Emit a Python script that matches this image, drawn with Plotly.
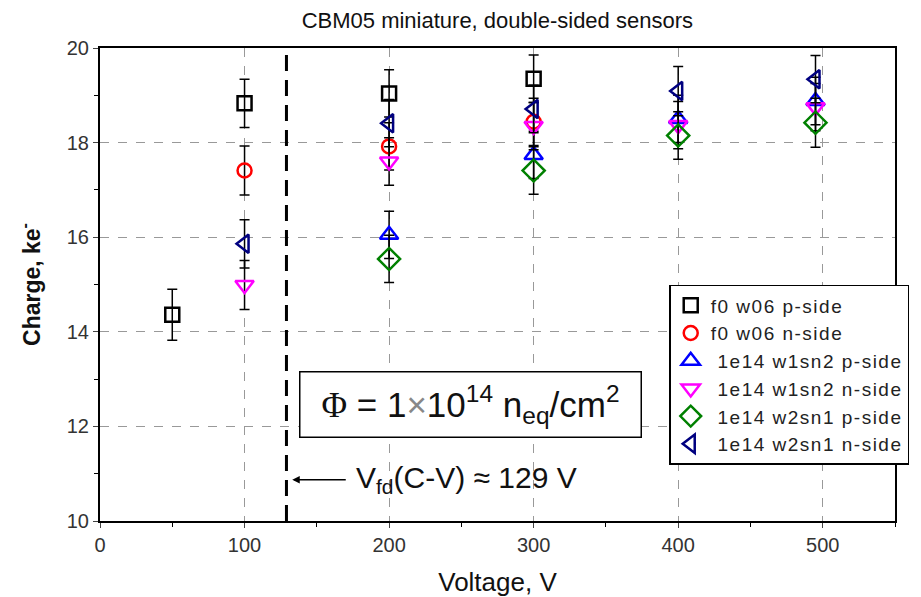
import plotly.graph_objects as go

# Charge collected vs. bias voltage for CBM05 miniature double-sided sensors
series_names = [
    "f0 w06 p-side",
    "f0 w06 n-side",
    " 1e14 w1sn2 p-side",
    " 1e14 w1sn2 n-side",
    " 1e14 w2sn1 p-side",
    " 1e14 w2sn1 n-side",
]

f0_p_volt = [50, 100, 200, 300]
f0_p_charge = [14.36, 18.83, 19.04, 19.35]
f0_p_err = [0.54, 0.51, 0.50, 0.50]

f0_n_volt = [100, 200, 300]
f0_n_charge = [17.41, 17.92, 18.44]
f0_n_err = [0.52, 0.50, 0.50]

w1_p_volt = [200, 300, 400, 495]
w1_p_charge = [16.05, 17.74, 18.50, 18.88]
w1_p_err = [0.50, 0.50, 0.50, 0.50]

w1_n_volt = [100, 200, 300, 400, 495]
w1_n_charge = [14.99, 17.60, 18.35, 18.37, 18.75]
w1_n_err = [0.52, 0.50, 0.50, 0.50, 0.50]

w2_p_volt = [200, 300, 400, 495]
w2_p_charge = [15.54, 17.41, 18.15, 18.42]
w2_p_err = [0.50, 0.50, 0.50, 0.52]

w2_n_volt = [100, 200, 300, 400, 495]
w2_n_charge = [15.86, 18.41, 18.71, 19.09, 19.34]
w2_n_err = [0.51, 0.50, 0.50, 0.52, 0.50]

v_full_depletion = 129

x_ticks = [0, 100, 200, 300, 400, 500]
y_ticks = [10, 12, 14, 16, 18, 20]

volts = [f0_p_volt, f0_n_volt, w1_p_volt, w1_n_volt, w2_p_volt, w2_n_volt]
charges = [f0_p_charge, f0_n_charge, w1_p_charge, w1_n_charge, w2_p_charge, w2_n_charge]
errors = [f0_p_err, f0_n_err, w1_p_err, w1_n_err, w2_p_err, w2_n_err]
symbols = ["square-open", "circle-open", "triangle-up-open",
           "triangle-down-open", "diamond-open", "triangle-left-open"]
colors = ["#000000", "#ff0000", "#0000ff", "#ff00ff", "#008000", "#000080"]
sizes = [14, 14, 16, 16, 17, 16]

FONT = "Liberation Sans, Arial, sans-serif"

fig = go.Figure()

for name, xv, yv, ev, sym, col, sz in zip(series_names, volts, charges, errors,
                                          symbols, colors, sizes):
    fig.add_trace(go.Scatter(
        x=xv, y=yv, mode="markers",
        name=f"<span style='letter-spacing:1.5px'>{name}</span>",
        marker=dict(symbol=sym, size=sz, color=col, line=dict(width=2.5, color=col)),
        error_y=dict(type="data", array=ev, visible=True, color="#000000",
                     thickness=1.5, width=5),
    ))

# full depletion voltage marker
fig.add_shape(type="line", xref="x", yref="paper",
              x0=v_full_depletion, x1=v_full_depletion, y0=0, y1=1,
              line=dict(color="black", width=3, dash="16px,9px"))

fig.add_annotation(x=133, y=10.87, xref="x", yref="y", ax=55, ay=0,
                   text="", showarrow=True, arrowhead=2, arrowsize=1,
                   arrowwidth=1.5, arrowcolor="black")
fig.add_annotation(x=176, y=10.87, xref="x", yref="y", xanchor="left",
                   text="V<sub>fd</sub>(C-V) ≈ 129 V", showarrow=False,
                   font=dict(family=FONT, size=30, color="#111"))

fig.add_annotation(x=256, y=12.46, xref="x", yref="y",
                   text="<span style='font-family:Liberation Serif,Times New Roman,serif'>Φ</span> = 1"
                        "<span style='color:#888'>×</span>10<sup>14</sup> n<sub>eq</sub>/cm<sup>2</sup>",
                   showarrow=False, bordercolor="black", borderwidth=1.5,
                   bgcolor="white", borderpad=4, width=332, height=56,
                   font=dict(family=FONT, size=35, color="#111"))

fig.update_layout(
    width=921, height=597,
    margin=dict(l=100, r=26, t=48, b=76),
    paper_bgcolor="white", plot_bgcolor="white",
    title=dict(text="CBM05 miniature, double-sided sensors", x=0.54, xanchor="center",
               xref="container", y=0.966, yref="container", yanchor="middle",
               font=dict(family=FONT, size=22, color="#111")),
    font=dict(family=FONT, color="#222"),
    showlegend=True,
    legend=dict(x=0.716, y=0.499, xanchor="left", yanchor="top",
                bgcolor="white", bordercolor="black", borderwidth=1.5,
                font=dict(family=FONT, size=19, color="#222"),
                itemsizing="trace", tracegroupgap=0),
)

fig.update_xaxes(
    range=[0, 550], tickvals=x_ticks, ticks="outside", ticklen=5,
    tickfont=dict(family=FONT, size=20, color="#333"),
    minor=dict(dtick=50, ticks="outside", ticklen=4, tickcolor="black", showgrid=False),
    showline=True, linecolor="black", linewidth=2, mirror=True,
    showgrid=True, gridcolor="#999", griddash="dash", gridwidth=1,
    zeroline=False, automargin=False,
    title=dict(text="Voltage, V", font=dict(family=FONT, size=26, color="#111"), standoff=30),
)
fig.update_yaxes(
    range=[10, 20], tickvals=y_ticks, ticks="outside", ticklen=5,
    tickfont=dict(family=FONT, size=20, color="#333"),
    minor=dict(dtick=1, ticks="outside", ticklen=4, tickcolor="black", showgrid=False),
    showline=True, linecolor="black", linewidth=2, mirror=True,
    showgrid=True, gridcolor="#999", griddash="dash", gridwidth=1,
    zeroline=False, automargin=False,
    title=dict(text="<b>Charge, ke<sup>-</sup></b>", font=dict(family=FONT, size=23, color="#111"),
               standoff=20),
)

fig.write_html("out.html")
